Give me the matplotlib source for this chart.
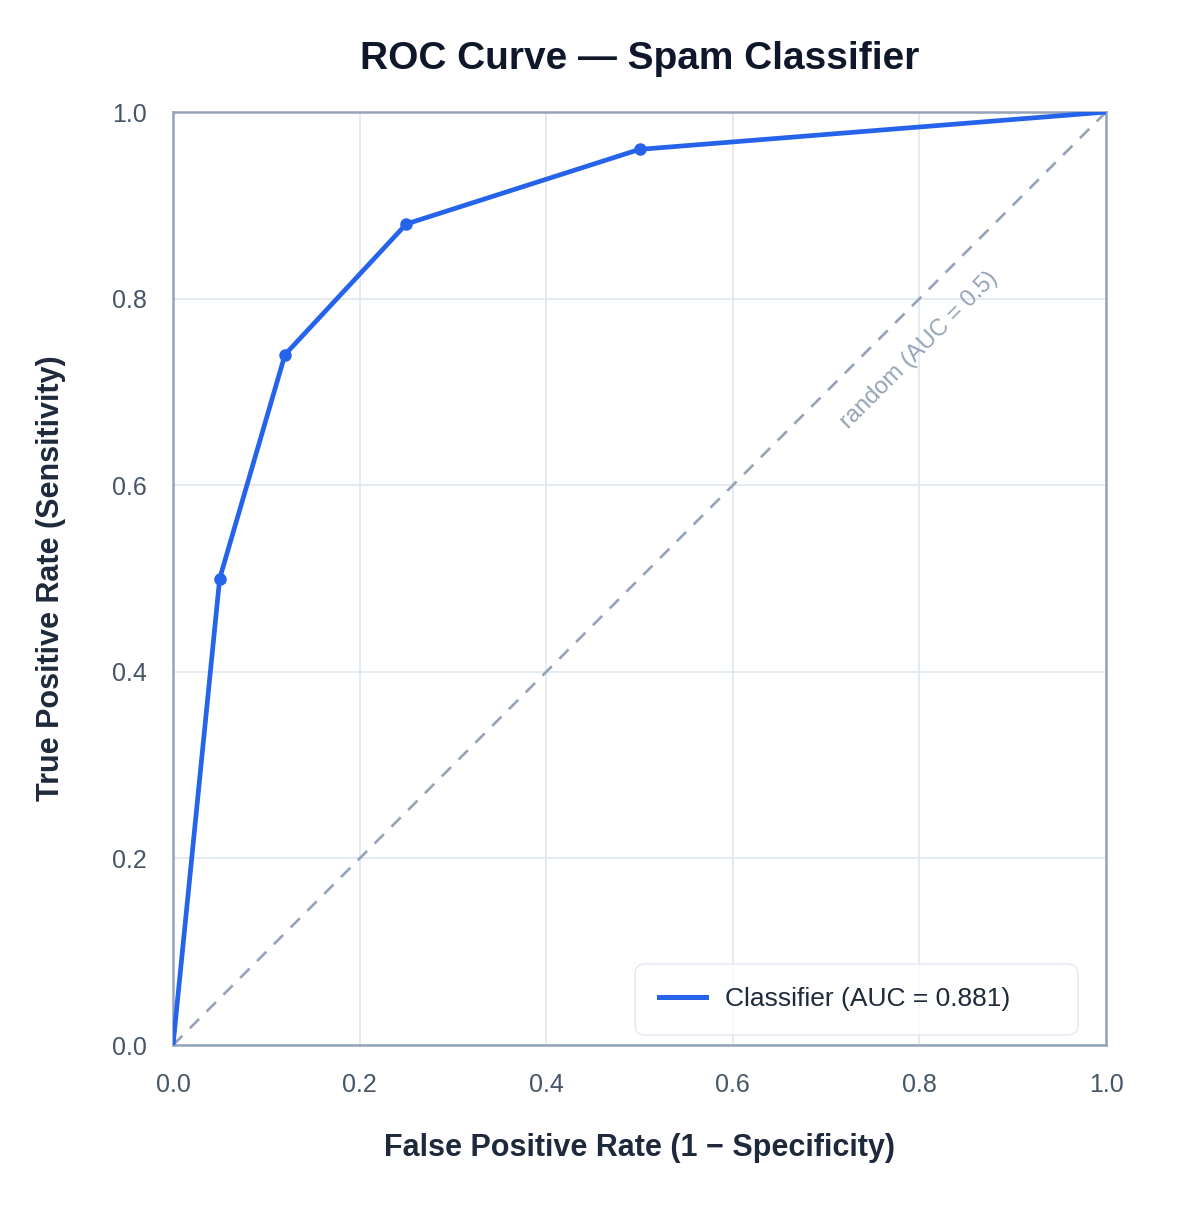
import matplotlib
matplotlib.use("Agg")
import matplotlib.pyplot as plt
from matplotlib.lines import Line2D

plt.rcParams['font.family'] = ['Liberation Sans', 'DejaVu Sans']

# ROC points
fpr = [0.0, 0.05, 0.12, 0.25, 0.5, 1.0]
tpr = [0.0, 0.5, 0.74, 0.88, 0.96, 1.0]
auc_label = "Classifier (AUC = 0.881)"
ticks = [0.0, 0.2, 0.4, 0.6, 0.8, 1.0]

fig = plt.figure(figsize=(12, 12.18), dpi=100)
ax = fig.add_axes([0.1442, 0.142, 0.7775, 0.766])

ax.plot([0, 1], [0, 1], color='#94a3b8', lw=1.9, ls=(0, (5, 4)), zorder=2)
ax.plot(fpr, tpr, color='#2563eb', lw=3.4, marker='o', markersize=8,
        markevery=[1, 2, 3, 4], zorder=3)

ax.text(0.8, 0.745, "random (AUC = 0.5)", rotation=45, ha='center', va='center',
        color='#94a3b8', fontsize=17)

ax.set_xlim(0, 1)
ax.set_ylim(0, 1)
ax.set_xticks(ticks)
ax.set_yticks(ticks)
ax.set_xticklabels([f"{t:.1f}" for t in ticks])
ax.set_yticklabels([f"{t:.1f}" for t in ticks])
ax.tick_params(length=0, labelsize=18, colors='#475569')
ax.tick_params(axis='x', pad=20)
ax.tick_params(axis='y', pad=19)
ax.grid(True, color='#e2e8f0', lw=1.3)
ax.set_axisbelow(True)
for s in ax.spines.values():
    s.set_color('#94a3b8')
    s.set_linewidth(1.8)

ax.set_title("ROC Curve — Spam Classifier", fontsize=28, fontweight='bold',
             color='#0f172a', pad=31)
ax.set_xlabel("False Positive Rate (1 − Specificity)", fontsize=22,
              fontweight='bold', color='#1e293b', labelpad=26)
ax.set_ylabel("True Positive Rate (Sensitivity)", fontsize=22,
              fontweight='bold', color='#1e293b', labelpad=33)

# legend box spans a fixed width like the reference
handle = Line2D([], [], color='#2563eb', lw=3.6)
leg = ax.legend([handle], [auc_label], loc='lower left', mode='expand',
                bbox_to_anchor=(0.495, 0.0107, 0.475, 0.074), fontsize=19,
                frameon=True, borderpad=0.9, handlelength=1.78,
                handletextpad=0.72, borderaxespad=0.0, fancybox=True)
leg.get_frame().set_edgecolor('#e2e8f0')
leg.get_frame().set_linewidth(1.3)
leg.get_frame().set_boxstyle('round,pad=0,rounding_size=0.4')
for t in leg.get_texts():
    t.set_color('#1e293b')

fig.savefig("out.png", dpi=100)
